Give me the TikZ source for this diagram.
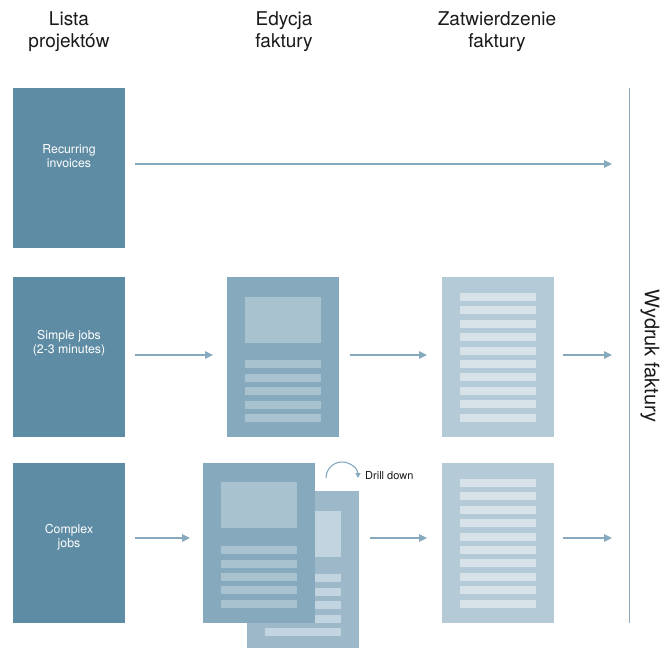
\documentclass[tikz,border=0pt]{standalone}
\usepackage{fontspec}
\setmainfont{TeX Gyre Heros}
\usetikzlibrary{arrows.meta,calc}
\definecolor{cDark}{HTML}{5E8CA4}
\definecolor{cEdit}{HTML}{86A9BD}
\definecolor{cEditIn}{HTML}{A9C2D0}
\definecolor{cBack}{HTML}{9DB8C9}
\definecolor{cBackIn}{HTML}{C1D4DF}
\definecolor{cAppr}{HTML}{B4CAD6}
\definecolor{cApprIn}{HTML}{D8E3E9}
\definecolor{cArrow}{HTML}{86A9BE}
\definecolor{cVline}{HTML}{8FA9BB}
\definecolor{cText}{HTML}{1A1A1A}
\begin{document}
\begin{tikzpicture}[x=1pt,y=-1pt,
  colbox/.style={fill=cDark,minimum width=112pt,minimum height=160pt,inner sep=0pt,outer sep=0pt},
  boxtext/.style={text=white,align=center,inner sep=0pt,font=\fontsize{12.3}{14}\selectfont},
  docbox/.style={minimum width=112pt,minimum height=160pt,inner sep=0pt,outer sep=0pt},
  header/.style={align=center,text=cText,font=\fontsize{19}{22}\selectfont},
  arr/.style={draw=cArrow,line width=1.2pt,-{Triangle[length=8pt,width=7.5pt]}}
]
\useasboundingbox (0,0) rectangle (672,648);
\fill[white] (0,0) rectangle (672,648);

% headers
\node[header] (h1) at (69,32) {Lista\\projektów};
\node[header] (h2) at (284,32) {Edycja\\faktury};
\node[header] (h3) at (497,32) {Zatwierdzenie\\faktury};

% left column boxes
\node[colbox] (r1) at (69,168) {};
\node[colbox] (r2) at (69,357) {};
\node[colbox] (r3) at (69,543) {};
\node[boxtext] (t1) at ($(r1.center)+(0,-12)$) {Recurring\\invoices};
\node[boxtext] (t2) at ($(r2.center)+(0,-14)$) {Simple jobs\\(2-3 minutes)};
\node[boxtext] (t3) at ($(r3.center)+(0,-6)$) {Complex\\jobs};

% row 2 edit doc
\node[docbox,fill=cEdit] (ed2) at (283,357) {};
\fill[cEditIn] ($(ed2.north west)+(18,20)$) rectangle +(76,46);
\foreach \o in {83,97,110,124,137}
  \fill[cEditIn] ($(ed2.north west)+(18,\o)$) rectangle +(76,8);

% approve docs
\node[docbox,fill=cAppr] (ap2) at (498,357) {};
\node[docbox,fill=cAppr] (ap3) at (498,543) {};
\foreach \d in {ap2,ap3}
  \foreach \o in {16,29,43,56,70,83,96,110,123,137}
    \fill[cApprIn] ($(\d.north west)+(18,\o)$) rectangle +(76,8);

% row 3 back doc
\node[docbox,fill=cBack,minimum height=157pt] (bk) at (303,569.5) {};
\fill[cBackIn] ($(bk.north west)+(18,20)$) rectangle +(76,46);
\foreach \o in {83,97,110,124,137}
  \fill[cBackIn] ($(bk.north west)+(18,\o)$) rectangle +(76,8);

% row 3 front doc
\node[docbox,fill=cEdit] (ed3) at (259,543) {};
\fill[cEditIn] ($(ed3.north west)+(18,19)$) rectangle +(76,46);
\foreach \o in {83,97,110,123,137}
  \fill[cEditIn] ($(ed3.north west)+(18,\o)$) rectangle +(76,8);

% drill down
\draw[draw=cArrow,line width=1.1pt,-{Triangle[length=5pt,width=5pt]}]
  ($(bk.north east)+(-33,-13)$) arc[start angle=180,end angle=360,radius=16];
\node[anchor=west,text=cText,font=\fontsize{11}{13}\selectfont,inner sep=0pt] (dd) at ($(bk.north east)+(6,-15)$) {Drill down};

% vertical line and label
\coordinate (vt) at (629,88);
\coordinate (vb) at (629,623);
\draw[cVline,line width=1pt] (vt) -- (vb);
\node[rotate=-90,text=cText,font=\fontsize{20}{22}\selectfont] (wy) at (650,356) {Wydruk faktury};

\coordinate (e1) at (612,164);
\coordinate (e2) at (612,355);
\coordinate (e3) at (612,538);

% arrows
\draw[arr] ($(r1.east)+(10,-4)$) -- (e1);
\draw[arr] ($(r2.east)+(10,-2)$) -- ($(ed2.west)+(-14,-2)$);
\draw[arr] ($(ed2.east)+(11,-2)$) -- ($(ap2.west)+(-15,-2)$);
\draw[arr] ($(ap2.east)+(9,-2)$) -- (e2);
\draw[arr] ($(r3.east)+(10,-5)$) -- ($(ed3.west)+(-13,-5)$);
\draw[arr] ($(bk.east)+(11,-31.5)$) -- ($(ap3.west)+(-15,-5)$);
\draw[arr] ($(ap3.east)+(9,-5)$) -- (e3);
\end{tikzpicture}
\end{document}
